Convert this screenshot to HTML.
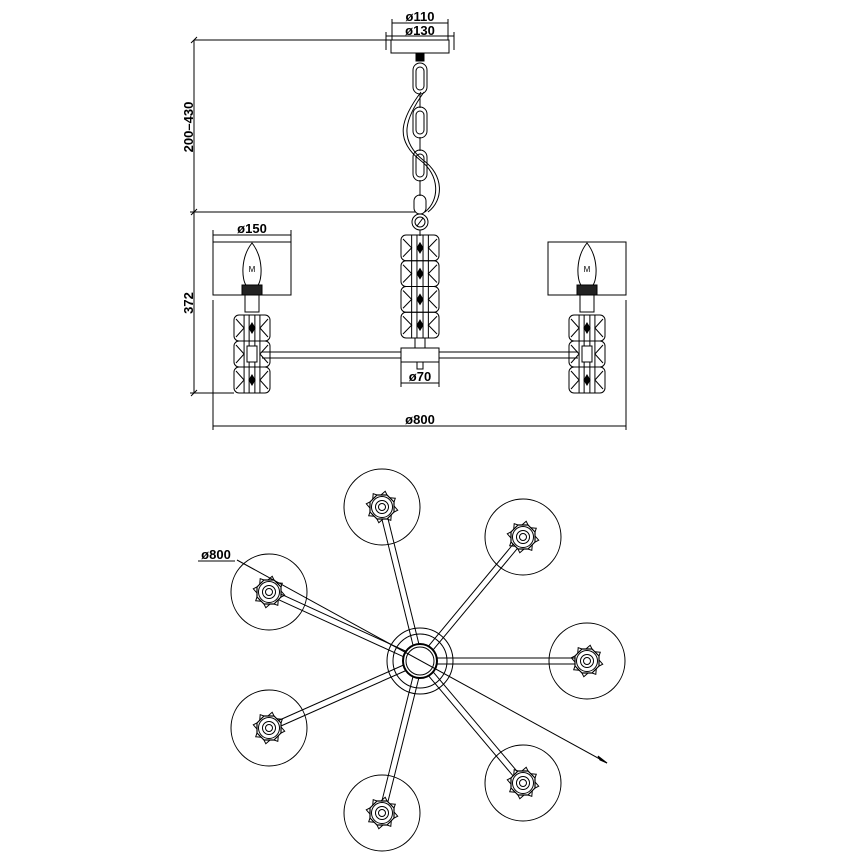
<!DOCTYPE html>
<html><head><meta charset="utf-8"><style>
html,body{margin:0;padding:0;background:#fff;}
svg{display:block}
text{font-family:"Liberation Sans",sans-serif;font-weight:bold;font-size:13px;fill:#000}
</style></head><body>
<svg id="s" width="854" height="854" viewBox="0 0 854 854" xmlns="http://www.w3.org/2000/svg" fill="none" stroke="#000" stroke-width="1">
<line x1="194" y1="40" x2="391" y2="40"/>
<line x1="194" y1="40" x2="194" y2="393"/>
<line x1="190" y1="212" x2="415" y2="212"/>
<line x1="190" y1="393" x2="234" y2="393"/>
<line x1="191" y1="43" x2="197" y2="37"/><line x1="191" y1="215" x2="197" y2="209"/><line x1="191" y1="396" x2="197" y2="390"/>
<text transform="translate(193,127) rotate(-90)" text-anchor="middle" stroke="none" style="font-size:13px">200–430</text>
<text transform="translate(193,303) rotate(-90)" text-anchor="middle" stroke="none">372</text>
<rect x="391" y="40" width="58" height="13"/>
<line x1="392" y1="23" x2="448" y2="23"/><line x1="392" y1="19" x2="392" y2="40"/><line x1="448" y1="19" x2="448" y2="40"/>
<line x1="386" y1="36" x2="454" y2="36"/><line x1="386" y1="32" x2="386" y2="50"/><line x1="454" y1="32" x2="454" y2="50"/>
<text x="420" y="21" text-anchor="middle" stroke="none">ø110</text>
<text x="420" y="35" text-anchor="middle" stroke="none">ø130</text>
<rect x="416" y="53" width="8" height="8" fill="#000"/>
<rect x="413" y="63" width="14" height="31" rx="7"/><rect x="416" y="67" width="8" height="23" rx="4"/>
<rect x="413" y="107" width="14" height="31" rx="7"/><rect x="416" y="111" width="8" height="23" rx="4"/>
<rect x="413" y="150" width="14" height="31" rx="7"/><rect x="416" y="154" width="8" height="23" rx="4"/>
<rect x="414" y="195" width="12" height="19" rx="6"/>
<line x1="420" y1="93" x2="420" y2="108"/><line x1="420" y1="137" x2="420" y2="151"/><line x1="420" y1="180" x2="420" y2="196"/>
<path d="M421 92 C 400 120, 395 140, 420 160 C 440 175, 440 200, 425 212"/>
<path d="M424 92 C 404 120, 399 140, 423 160 C 444 175, 444 200, 428 212"/>
<circle cx="420" cy="222" r="8"/><circle cx="420" cy="222" r="5"/><line x1="417" y1="226" x2="423" y2="218"/>
<line x1="420" y1="230" x2="420" y2="236"/>
<g id="tv"></g>
<line x1="262" y1="352" x2="401" y2="352"/><line x1="262" y1="358" x2="401" y2="358"/>
<line x1="439" y1="352" x2="578" y2="352"/><line x1="439" y1="358" x2="578" y2="358"/>
<rect x="401" y="348" width="38" height="14"/>
<rect x="417" y="362" width="6" height="7"/>
<line x1="415" y1="338" x2="415" y2="348"/><line x1="425" y1="338" x2="425" y2="348"/>
<line x1="401" y1="362" x2="401" y2="387"/><line x1="439" y1="362" x2="439" y2="387"/>
<line x1="401" y1="383" x2="439" y2="383"/>
<text x="420" y="381" text-anchor="middle" stroke="none">ø70</text>
<rect x="213" y="242" width="78" height="53"/>
<rect x="548" y="242" width="78" height="53"/>
<line x1="213" y1="235" x2="291" y2="235"/><line x1="213" y1="230" x2="213" y2="242"/><line x1="291" y1="230" x2="291" y2="242"/>
<text x="252" y="233" text-anchor="middle" stroke="none">ø150</text>
<line x1="213" y1="300" x2="213" y2="430"/><line x1="626" y1="300" x2="626" y2="430"/>
<line x1="213" y1="426" x2="626" y2="426"/>
<text x="420" y="424" text-anchor="middle" stroke="none">ø800</text>
<g id="bv"></g>
<line x1="237" y1="560" x2="607" y2="763"/>
<path d="M607 763 L598 756 L600 760 Z" fill="#000"/>
<line x1="198" y1="561" x2="235" y2="561"/>
<text x="216" y="559" text-anchor="middle" stroke="none">ø800</text>
</svg>
<script>
var NS="http://www.w3.org/2000/svg";
function el(p,t,a){var e=document.createElementNS(NS,t);for(var k in a)e.setAttribute(k,a[k]);p.appendChild(e);return e;}
var tv=document.getElementById("tv");
function crystal(x,y,w,h){
  var g=el(tv,"g",{});
  el(g,"rect",{x:x,y:y,width:w,height:h,rx:5});
  var c=x+w/2;
  [x+w*0.28,x+w*0.42,x+w*0.58,x+w*0.72].forEach(function(v){el(g,"line",{x1:v,y1:y,x2:v,y2:y+h});});
  el(g,"path",{d:"M"+(x+2)+" "+(y+4)+" L"+(x+w*0.28)+" "+(y+h/2)+" L"+(x+2)+" "+(y+h-4)});
  el(g,"path",{d:"M"+(x+w-2)+" "+(y+4)+" L"+(x+w*0.72)+" "+(y+h/2)+" L"+(x+w-2)+" "+(y+h-4)});
  el(g,"path",{d:"M"+c+" "+(y+h/2-5)+" l3 5 l-3 5 l-3 -5 Z",fill:"#000"});
}
for(var i=0;i<4;i++)crystal(401,235+i*25.75,38,25.75);
[252,587].forEach(function(cx){
  for(var i=0;i<3;i++)crystal(cx-18,315+i*26,36,26);
  el(tv,"path",{d:"M"+cx+" 243 C "+(cx-12)+" 258, "+(cx-10)+" 280, "+(cx-6)+" 285 L "+(cx+6)+" 285 C "+(cx+10)+" 280, "+(cx+12)+" 258, "+cx+" 243 Z",fill:"#fff"});
  el(tv,"text",{x:cx,y:272,"text-anchor":"middle",stroke:"none",style:"font-size:8px;font-weight:normal"}).textContent="M";
  el(tv,"rect",{x:cx-10,y:285,width:20,height:10,fill:"#222"});
  el(tv,"rect",{x:cx-7,y:295,width:14,height:17,fill:"#fff"});
  el(tv,"rect",{x:cx-5,y:346,width:10,height:16,fill:"#fff"});
});
var bv=document.getElementById("bv");
var C=[420,661];
var L=[[382,507],[523,537],[587,661],[523,783],[382,813],[269,728],[269,592]];
L.forEach(function(p){
  var dx=p[0]-C[0],dy=p[1]-C[1],d=Math.hypot(dx,dy),ux=dx/d,uy=dy/d,nx=-uy*3,ny=ux*3;
  var s=16,e=d-8;
  [1,-1].forEach(function(k){
    el(bv,"line",{x1:C[0]+ux*s+nx*k,y1:C[1]+uy*s+ny*k,x2:C[0]+ux*e+nx*k,y2:C[1]+uy*e+ny*k});
  });
  el(bv,"circle",{cx:p[0],cy:p[1],r:38});
  for(var i=0;i<8;i++){var a=i*Math.PI/4+0.2;
    var tx=p[0]+16*Math.cos(a),ty=p[1]+16*Math.sin(a);
    var b1=a-0.3,b2=a+0.3;
    el(bv,"polygon",{points:tx.toFixed(1)+","+ty.toFixed(1)+" "+(p[0]+12*Math.cos(b1)).toFixed(1)+","+(p[1]+12*Math.sin(b1)).toFixed(1)+" "+(p[0]+12*Math.cos(b2)).toFixed(1)+","+(p[1]+12*Math.sin(b2)).toFixed(1)});
  }
  var pts=[];for(var i=0;i<8;i++){var a=i*Math.PI/4+Math.PI/8;pts.push((p[0]+13*Math.cos(a)).toFixed(1)+","+(p[1]+13*Math.sin(a)).toFixed(1));}
  el(bv,"polygon",{points:pts.join(" "),fill:"#fff","stroke-width":1.2});
  el(bv,"circle",{cx:p[0],cy:p[1],r:10.5,fill:"#fff"});
  el(bv,"circle",{cx:p[0],cy:p[1],r:6.5});
  el(bv,"circle",{cx:p[0],cy:p[1],r:3.5});
});
el(bv,"circle",{cx:C[0],cy:C[1],r:33});
el(bv,"circle",{cx:C[0],cy:C[1],r:27});
el(bv,"circle",{cx:C[0],cy:C[1],r:17,"stroke-width":2,fill:"#fff"});
el(bv,"circle",{cx:C[0],cy:C[1],r:14});
</script>
</body></html>
